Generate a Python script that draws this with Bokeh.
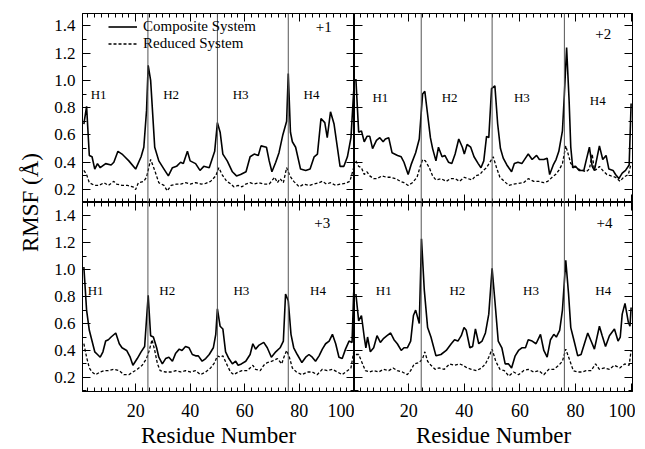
import math
from bokeh.plotting import figure
from bokeh.models import (Range1d, LinearAxis, FixedTicker, Span, Legend, LegendItem,
                          PrintfTickFormatter)
from bokeh.layouts import gridplot, row
from bokeh.embed import file_html
from bokeh.resources import INLINE
from bokeh.core.properties import value

FONT = "Liberation Serif"

# ---------------- data: (residue, RMSF in Angstrom) ----------------
comp_p1 = [(1,0.68),(2,0.81),(3,0.45),(4,0.44),(5,0.35),(6,0.39),(7,0.36),(9,0.39),(11,0.38),(12,0.40),
           (13.5,0.48),(15,0.46),(16,0.44),(17.5,0.41),(20,0.35),(22,0.44),(23,0.51),(24,0.78),(24.6,1.11),
           (25.5,1.00),(27,0.51),(28.5,0.41),(30.4,0.35),(32,0.30),(33.5,0.36),(35,0.37),(36.5,0.40),(37.5,0.39),
           (39,0.48),(40,0.41),(42,0.39),(43.6,0.34),(45,0.37),(47,0.36),(49,0.48),(50,0.69),(51,0.62),(52,0.46),
           (53.6,0.41),(55.5,0.33),(57,0.30),(58.5,0.31),(60.5,0.33),(62,0.44),(63.5,0.46),(65,0.45),(66,0.52),
           (68,0.51),(69,0.41),(70,0.33),(71.4,0.40),(72.6,0.47),(74,0.60),(75.4,0.70),(76,1.05),(76.8,0.62),
           (77.5,0.55),(78.7,0.51),(80.5,0.35),(82.4,0.34),(84,0.35),(85.5,0.44),(86.7,0.46),(88,0.72),(89.4,0.69),
           (90.3,0.58),(91.5,0.77),(92.8,0.68),(94,0.51),(95,0.37),(96.4,0.37),(97.7,0.44),(99,0.58),(100,0.92)]
red_p1 = [(1,0.34),(2,0.31),(3,0.25),(5,0.23),(6.5,0.23),(8.4,0.25),(10,0.23),(12,0.26),(13,0.24),(15,0.23),
          (17,0.23),(19,0.22),(20,0.20),(21,0.25),(23,0.26),(24,0.29),(25.5,0.42),(27,0.34),(28.5,0.25),
          (30.4,0.23),(31.6,0.19),(33,0.23),(35,0.24),(36.5,0.24),(38.3,0.25),(40,0.24),(42,0.25),(44,0.24),
          (45.7,0.245),(47.5,0.26),(49.4,0.30),(50.5,0.36),(51.7,0.31),(53.4,0.26),(55,0.24),(56,0.22),
          (57.6,0.23),(59,0.22),(60.4,0.24),(62,0.25),(63.5,0.24),(65.3,0.25),(67,0.24),(69,0.24),(71,0.29),
          (72,0.25),(73,0.28),(74.2,0.25),(75.4,0.36),(76.6,0.30),(78,0.26),(80,0.22),(81.8,0.24),(83.6,0.23),
          (85.5,0.24),(87.3,0.25),(88.5,0.26),(90,0.24),(91.5,0.25),(93.4,0.23),(95,0.24),(97,0.245),
          (98.6,0.26),(100,0.36)]
comp_p2 = [(1,1.01),(2,0.62),(3,0.63),(4,0.55),(5,0.59),(6,0.59),(7,0.50),(8.4,0.56),(9.6,0.58),(10.8,0.55),
           (11.6,0.57),(12.8,0.58),(14,0.47),(16,0.45),(17.3,0.44),(18.3,0.40),(19.8,0.31),(21,0.39),(22.5,0.47),
           (23.8,0.57),(25,0.90),(25.8,0.92),(26.8,0.75),(27.8,0.58),(28.6,0.50),(29.8,0.41),(30.7,0.51),
           (32,0.44),(33,0.45),(34.3,0.40),(35.5,0.39),(36.7,0.46),(38,0.57),(39.3,0.51),(40,0.46),(41,0.53),
           (42.3,0.51),(43.5,0.44),(45,0.39),(46,0.36),(47,0.41),(48,0.59),(48.8,0.58),(49.8,0.94),(51,0.96),
           (52,0.68),(53,0.50),(54,0.43),(55.3,0.38),(57,0.33),(58,0.39),(59.3,0.40),(60.7,0.39),(62,0.43),
           (63,0.46),(64.4,0.42),(66,0.45),(67,0.42),(68.6,0.42),(69.8,0.43),(70.7,0.31),(72,0.38),(73,0.42),
           (74,0.48),(75.3,0.63),(76,0.90),(76.8,1.24),(77.7,0.85),(78.3,0.51),(79,0.36),(80,0.37),(81.3,0.34),
           (83,0.34),(83.8,0.41),(85,0.51),(86,0.37),(86.8,0.34),(87.8,0.44),(88.6,0.52),(89.8,0.42),(91,0.45),
           (92,0.35),(93.5,0.34),(94.4,0.31),(95.6,0.28),(96.8,0.32),(98,0.34),(99.3,0.38),(100,0.83)]
red_p2 = [(1,0.41),(2,0.37),(3,0.36),(4,0.31),(5,0.33),(6,0.30),(7.4,0.28),(8.6,0.28),(10.4,0.30),(12,0.29),
          (13.5,0.29),(15.3,0.28),(17,0.26),(18.3,0.25),(19.8,0.23),(21.3,0.25),(23,0.29),(24,0.36),(25,0.42),
          (26,0.41),(27.4,0.36),(28.6,0.30),(29.8,0.27),(31.6,0.28),(33.5,0.26),(35,0.28),(36.7,0.28),
          (38.3,0.26),(40,0.29),(41.3,0.28),(42.8,0.27),(44,0.30),(45.6,0.31),(46.8,0.34),(48,0.36),(49.2,0.40),
          (50.4,0.44),(51.6,0.36),(52.8,0.29),(54.4,0.26),(56,0.23),(57.7,0.24),(59.5,0.245),(61.3,0.25),
          (63,0.28),(65,0.26),(66.8,0.26),(68.6,0.25),(70,0.26),(71.6,0.29),(72.8,0.31),(74,0.34),(75.3,0.39),
          (76.5,0.52),(77.5,0.45),(78.3,0.39),(79.5,0.37),(81,0.35),(82.5,0.34),(83.8,0.33),(85,0.35),
          (86,0.46),(86.8,0.34),(87.8,0.35),(88.6,0.37),(89.8,0.34),(91.3,0.31),(92.8,0.30),(94.4,0.29),
          (96,0.26),(97.3,0.29),(99,0.31),(100,0.39)]
comp_p3 = [(1,1.02),(2,0.70),(3,0.55),(4,0.47),(5,0.39),(6,0.37),(7,0.35),(8,0.39),(9,0.47),(10,0.48),
           (11,0.50),(12.7,0.53),(14,0.45),(15,0.42),(16.7,0.40),(18,0.35),(19,0.29),(20.6,0.34),(22,0.39),
           (23.3,0.43),(24.6,0.81),(25.5,0.51),(26.5,0.50),(27.7,0.42),(28.5,0.35),(29.8,0.30),(31,0.34),
           (32.2,0.35),(33.5,0.32),(34.7,0.38),(36,0.41),(37,0.40),(38.3,0.43),(39.6,0.42),(40.8,0.37),(42,0.36),
           (43,0.36),(44.4,0.32),(45.7,0.34),(47,0.37),(48.5,0.42),(49.4,0.52),(50,0.71),(51,0.58),(52,0.56),
           (53,0.39),(54.2,0.34),(55.5,0.30),(56.7,0.32),(57.6,0.29),(58.8,0.30),(60.4,0.32),(62,0.37),(63,0.45),
           (64,0.41),(65.3,0.44),(67,0.46),(68.3,0.42),(69.8,0.35),(71.4,0.39),(73,0.42),(74.2,0.47),(75,0.82),
           (76,0.77),(77,0.52),(78,0.42),(79.3,0.37),(81,0.31),(82.4,0.35),(83.6,0.37),(84.8,0.35),(86,0.32),
           (87.3,0.36),(88.5,0.41),(89.7,0.45),(91,0.47),(92.2,0.52),(93.4,0.45),(94.6,0.35),(95.8,0.34),
           (97,0.41),(98.3,0.47),(99.4,0.46),(100,0.83)]
red_p3 = [(1,0.45),(2,0.35),(3,0.27),(4,0.24),(5.3,0.22),(7,0.24),(8.4,0.25),(10,0.25),(12,0.26),(14,0.25),
          (15.7,0.22),(17.5,0.22),(19,0.24),(20.6,0.26),(22.4,0.29),(24,0.34),(25,0.40),(26,0.48),(27,0.40),
          (28,0.30),(29,0.25),(31,0.24),(33,0.24),(34.7,0.25),(36.5,0.24),(38.3,0.25),(40,0.24),(42,0.25),
          (43.8,0.22),(45.7,0.24),(47.5,0.27),(49,0.31),(50,0.36),(51,0.35),(52,0.36),(53.6,0.29),(54.8,0.24),
          (56,0.22),(57.6,0.24),(59,0.25),(61,0.25),(63,0.29),(64,0.26),(65.7,0.25),(67,0.29),(68.3,0.31),
          (70,0.32),(72,0.34),(73.6,0.30),(74.4,0.35),(75.4,0.40),(76.4,0.35),(77.5,0.27),(79,0.24),(81,0.22),
          (83,0.24),(84.8,0.24),(86.6,0.22),(88.5,0.26),(90.3,0.25),(92.2,0.26),(94,0.24),(95.8,0.22),
          (97.7,0.25),(99,0.27),(100,0.39)]
comp_p4 = [(1,0.82),(2,0.62),(3,0.66),(4,0.50),(4.6,0.42),(5.2,0.50),(6.2,0.39),(7.4,0.42),(8.6,0.51),
           (9.8,0.46),(11,0.49),(12.2,0.51),(13.5,0.53),(14.7,0.48),(15.9,0.45),(17.3,0.40),(18.3,0.42),
           (19.5,0.42),(20.7,0.47),(21.7,0.66),(22.5,0.70),(23.8,0.60),(24.6,1.23),(25.6,0.85),(26.8,0.57),
           (28,0.50),(29.8,0.36),(31.6,0.37),(33.5,0.40),(35.3,0.45),(36.5,0.48),(37.7,0.47),(38.9,0.51),
           (39.9,0.57),(40.7,0.55),(42,0.42),(43,0.43),(44,0.56),(45.2,0.45),(46.4,0.47),(47.6,0.53),(48.8,0.67),
           (50,1.01),(51,0.77),(52.2,0.47),(53.5,0.42),(54.7,0.30),(55.9,0.30),(57,0.27),(58.3,0.36),(59.5,0.40),
           (60.7,0.42),(62,0.42),(63,0.48),(64.4,0.47),(65.8,0.45),(67.4,0.52),(68.6,0.40),(69.8,0.35),(71,0.48),
           (72.2,0.52),(73.1,0.50),(74.3,0.55),(75.3,0.70),(76.5,1.07),(77.5,0.82),(78.3,0.57),(79.5,0.47),
           (80.8,0.36),(82,0.37),(83.2,0.45),(84.4,0.53),(85.6,0.47),(86.8,0.41),(88.6,0.58),(89.6,0.51),
           (90.8,0.43),(92.2,0.51),(94,0.56),(95.3,0.47),(96.1,0.50),(96.8,0.67),(97.8,0.75),(99,0.61),
           (99.6,0.58),(100,0.72)]
red_p4 = [(1,0.37),(2,0.37),(3,0.32),(4.4,0.25),(6,0.24),(7.4,0.25),(9.2,0.24),(11,0.26),(12.8,0.25),
          (14.4,0.27),(15.9,0.25),(17.7,0.24),(19.5,0.22),(20.7,0.25),(22,0.30),(23.8,0.31),(25,0.34),
          (25.8,0.39),(26.8,0.32),(28,0.29),(29.5,0.26),(31,0.27),(32.8,0.26),(34.7,0.30),(36.5,0.29),
          (38.3,0.30),(39.5,0.29),(41,0.27),(42.5,0.26),(44.4,0.25),(46.2,0.27),(47.6,0.30),(48.8,0.35),
          (50,0.41),(51.3,0.32),(52.8,0.26),(54.4,0.25),(56,0.21),(57.7,0.24),(59.5,0.22),(61.3,0.25),
          (63,0.26),(65,0.24),(66.8,0.25),(68.6,0.22),(70.4,0.26),(72.2,0.26),(74,0.29),(75.3,0.32),
          (76.5,0.41),(77.7,0.34),(79.2,0.25),(80.8,0.24),(82.3,0.24),(83.8,0.25),(85.6,0.25),(87.2,0.30),
          (88.6,0.26),(90.4,0.27),(92.2,0.26),(94,0.29),(95.9,0.27),(97.7,0.30),(99.3,0.29),(100,0.40)]

helix_bounds = [24.5, 50, 76]
helix_names = ["H1", "H2", "H3", "H4"]
charge_tags = ["+1", "+2", "+3", "+4"]
series_names = ["Composite System", "Reduced System"]

x_major = [20, 40, 60, 80, 100]
x_minor = [0, 2.5, 5, 7.5, 10, 12.5, 15, 17.5, 20, 22.5, 25, 27.5, 30, 32.5, 35, 37.5, 40, 42.5, 45, 47.5,
           50, 52.5, 55, 57.5, 60, 62.5, 65, 67.5, 70, 72.5, 75, 77.5, 80, 82.5, 85, 87.5, 90, 92.5, 95, 97.5, 100]
y_major = [0.2, 0.4, 0.6, 0.8, 1.0, 1.2, 1.4]
y_minor = [0.1, 0.2, 0.3, 0.4, 0.5, 0.6, 0.7, 0.8, 0.9, 1.0, 1.1, 1.2, 1.3, 1.4, 1.5]

# ---------------- layout / style ----------------
FRAME_H = 189
LEFT_W, RIGHT_W = 272, 278
LEFT_BORDER, RIGHT_BORDER = 34, 3
TOP_BORDER, BOTTOM_BORDER = 13, 57
LABEL_W = 48
TOTAL_H = TOP_BORDER + 2 * FRAME_H + BOTTOM_BORDER

# per panel: helix label x positions, helix label y, tag position
panel_cfg = [
    dict(hx=[6.4, 33, 58.5, 84.5], hy=[0.90, 0.90, 0.90, 0.90], tx=89, ty=1.39),
    dict(hx=[9.8, 34.7, 60.7, 88], hy=[0.875, 0.875, 0.875, 0.85], tx=90, ty=1.34),
    dict(hx=[5.3, 31.6, 58.8, 86.9], hy=[0.845, 0.845, 0.845, 0.845], tx=88.5, ty=1.345),
    dict(hx=[11, 37.5, 64, 90], hy=[0.845, 0.845, 0.845, 0.845], tx=90.4, ty=1.345),
]


def style_axis(ax, show_labels, is_x):
    ax.ticker = FixedTicker(ticks=x_major if is_x else y_major, minor_ticks=x_minor if is_x else y_minor)
    ax.formatter = PrintfTickFormatter(format="%d" if is_x else "%.1f")
    ax.major_tick_in = 8
    ax.major_tick_out = 0
    ax.minor_tick_in = 4
    ax.minor_tick_out = 0
    ax.axis_line_color = "black"
    ax.major_tick_line_color = "black"
    ax.minor_tick_line_color = "black"
    ax.major_label_text_font = FONT
    if show_labels:
        ax.major_label_text_font_size = "18px" if is_x else "17px"
        ax.major_label_text_color = "black"
        ax.major_label_standoff = 12 if is_x else 7
    else:
        ax.major_label_text_font_size = "0px"
        ax.major_label_text_color = None
        ax.major_label_standoff = 0


def make_panel(idx, comp, red, x_rng, y_rng, fw, col, rowi):
    p = figure(frame_width=fw, frame_height=FRAME_H, x_range=Range1d(*x_rng), y_range=Range1d(*y_rng),
               toolbar_location=None, output_backend="svg", x_axis_location=None, y_axis_location=None,
               min_border_left=LEFT_BORDER if col == 0 else 0,
               min_border_right=0 if col == 0 else RIGHT_BORDER,
               min_border_top=TOP_BORDER if rowi == 0 else 0,
               min_border_bottom=0 if rowi == 0 else BOTTOM_BORDER,
               background_fill_color="white", border_fill_color="white")
    p.outline_line_color = "black"
    p.grid.visible = False

    for side in ["below", "above"]:
        ax = LinearAxis()
        show = (side == "below" and rowi == 1)
        style_axis(ax, show, True)
        if show:
            ax.axis_label = "Residue Number"
            ax.axis_label_text_font = FONT
            ax.axis_label_text_font_size = "23px"
            ax.axis_label_text_font_style = "normal"
            ax.axis_label_text_color = "black"
            ax.axis_label_standoff = 3
        p.add_layout(ax, side)
    for side in ["left", "right"]:
        ax = LinearAxis()
        show = (side == "left" and col == 0)
        style_axis(ax, show, False)
        p.add_layout(ax, side)

    for b in helix_bounds:
        p.add_layout(Span(location=b, dimension="height", line_color="#555555", line_width=1))

    rc = p.line([r for r, _ in comp], [v for _, v in comp], line_color="black", line_width=1.6)
    rr = p.line([r for r, _ in red], [v for _, v in red], line_color="black", line_width=1.3, line_dash="3 2")

    cfg = panel_cfg[idx]
    p.text(x=cfg["hx"], y=cfg["hy"], text=helix_names, text_font=value(FONT), text_font_size="13px",
           text_align="center", text_baseline="middle", text_color="black")
    p.text(x=[cfg["tx"]], y=[cfg["ty"]], text=[charge_tags[idx]], text_font=value(FONT), text_font_size="15px",
           text_align="center", text_baseline="middle", text_color="black")

    if idx == 0:
        lg = Legend(items=[LegendItem(label=series_names[0], renderers=[rc]),
                           LegendItem(label=series_names[1], renderers=[rr])],
                    location=(26, 150), margin=0, padding=0, spacing=0,
                    glyph_width=29, glyph_height=17, label_height=17, label_standoff=6,
                    label_text_font=FONT, label_text_font_size="15px", label_text_color="black",
                    border_line_color=None, background_fill_alpha=0)
        p.add_layout(lg)
    return p


x_left = (0.5, 100.3)
x_right = (0.5, 100.5)
y_top = (0.105, 1.49)
y_bot = (0.095, 1.5)

p1 = make_panel(0, comp_p1, red_p1, x_left, y_top, LEFT_W, 0, 0)
p2 = make_panel(1, comp_p2, red_p2, x_right, y_top, RIGHT_W, 1, 0)
p3 = make_panel(2, comp_p3, red_p3, x_left, y_bot, LEFT_W, 0, 1)
p4 = make_panel(3, comp_p4, red_p4, x_right, y_bot, RIGHT_W, 1, 1)

grid = gridplot([[p1, p2], [p3, p4]], toolbar_location=None)

lab = figure(width=LABEL_W, height=TOTAL_H, x_range=Range1d(0, LABEL_W), y_range=Range1d(0, TOTAL_H),
             toolbar_location=None, output_backend="svg", min_border=0,
             x_axis_location=None, y_axis_location=None)
lab.grid.visible = False
lab.outline_line_color = None
lab.text(x=[30], y=[TOTAL_H - 202], text=["RMSF (Å)"], angle=math.pi / 2, text_align="center",
         text_baseline="middle", text_font=value(FONT), text_font_size="23px", text_color="black")

layout = row(lab, grid)

open("out.html", "w").write(file_html(layout, INLINE))
